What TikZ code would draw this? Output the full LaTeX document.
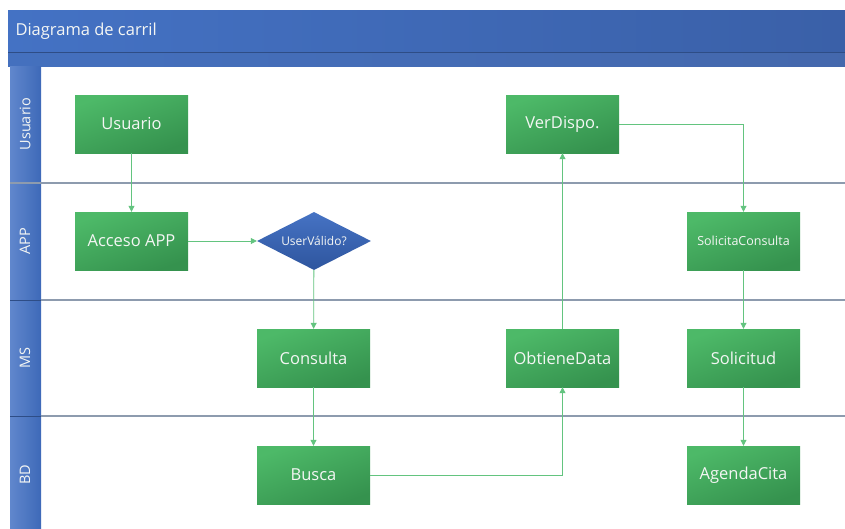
\documentclass[tikz,border=0pt]{standalone}
\usepackage{fontspec}
\setmainfont{Open Sans}
\usetikzlibrary{arrows.meta,shapes.geometric}
\definecolor{boxlight}{HTML}{4DB968}
\definecolor{boxdark}{HTML}{35924E}
\definecolor{dialight}{HTML}{4673C4}
\definecolor{diadark}{HTML}{2E559E}
\definecolor{barleft}{HTML}{4472C4}
\definecolor{barright}{HTML}{3A60A8}
\definecolor{bandcol}{HTML}{4470BE}
\definecolor{stripcol}{HTML}{3E69B8}
\definecolor{sepcol}{HTML}{8D9BAE}
\definecolor{flowcol}{HTML}{63C47F}
\definecolor{labeltext}{HTML}{F4F6F4}
\tikzset{
  stepbox/.style={rectangle, minimum width=113pt, minimum height=58pt, inner sep=0pt,
    shading=axis, top color=boxlight, bottom color=boxdark, shading angle=20,
    text=labeltext, font=\fontsize{16.5}{19}\selectfont},
  smallbox/.style={stepbox, font=\fontsize{12.5}{15}\selectfont},
  decision/.style={diamond, minimum width=114pt, minimum height=58pt, inner sep=0pt, aspect=2,
    top color=dialight, bottom color=diadark, text=labeltext, font=\fontsize{12}{14}\selectfont},
  flow/.style={draw=flowcol, line width=0.8pt, -{Triangle[length=6pt,width=6pt]}},
  lanelabel/.style={rotate=90, text=labeltext, font=\fontsize{14.5}{17}\selectfont},
  lanesep/.style={draw=sepcol, line width=1.3pt}
}
\begin{document}
\begin{tikzpicture}[x=1pt,y=-1pt]
\useasboundingbox (0,0) rectangle (845,528);
\fill[white] (0,0) rectangle (845,528);

% title bar and header band
\shade[left color=barleft, right color=barright] (8,10) rectangle (845,52);
\shade[left color=bandcol, right color=barright!95!white] (8,52) rectangle (845,66);
\draw[barright!80!black, line width=0.6pt] (8,52) -- (845,52);
\node[anchor=west, text=labeltext, font=\fontsize{16.5}{19}\selectfont] (title) at (12,31) {Diagrama de carril};

% lane label strip
\shade[left color=barleft!85!white, right color=stripcol] (10,66) rectangle (41,528);

% lane separators
\draw[lanesep] (10,183) -- (845,183);
\draw[lanesep] (41,300) -- (845,300);
\draw[lanesep] (41,416) -- (845,416);
\draw[line width=0.6pt, barright!80!black] (10,300) -- (41,300);
\draw[line width=0.6pt, barright!80!black] (10,416) -- (41,416);

% lane labels
\node[lanelabel] (lu) at (25,124) {Usuario};
\node[lanelabel] (la) at (25,241) {APP};
\node[lanelabel] (lm) at (25,358) {MS};
\node[lanelabel] (lb) at (25,475) {BD};

% process steps
\node[stepbox] (usuario) at (131.5,124) {Usuario};
\node[stepbox] (acceso) at (131.5,241) {Acceso APP};
\node[decision] (valido) at (314,241) {UserVálido?};
\node[stepbox] (consulta) at (313.5,358) {Consulta};
\node[stepbox] (busca) at (313.5,475) {Busca};
\node[stepbox] (obtiene) at (562.5,358) {ObtieneData};
\node[stepbox] (verdispo) at (562.5,124) {VerDispo.};
\node[smallbox] (solcons) at (743.5,241) {SolicitaConsulta};
\node[stepbox] (solicitud) at (743.5,358) {Solicitud};
\node[stepbox] (agenda) at (743.5,475) {AgendaCita};

% connectors
\draw[flow] (usuario) -- (acceso);
\draw[flow] (acceso) -- (valido);
\draw[flow] (valido) -- (consulta);
\draw[flow] (consulta) -- (busca);
\draw[flow] (busca.east) -| (obtiene.south);
\draw[flow] (obtiene) -- (verdispo);
\draw[flow] (verdispo.east) -| (solcons.north);
\draw[flow] (solcons) -- (solicitud);
\draw[flow] (solicitud) -- (agenda);
\end{tikzpicture}
\end{document}
